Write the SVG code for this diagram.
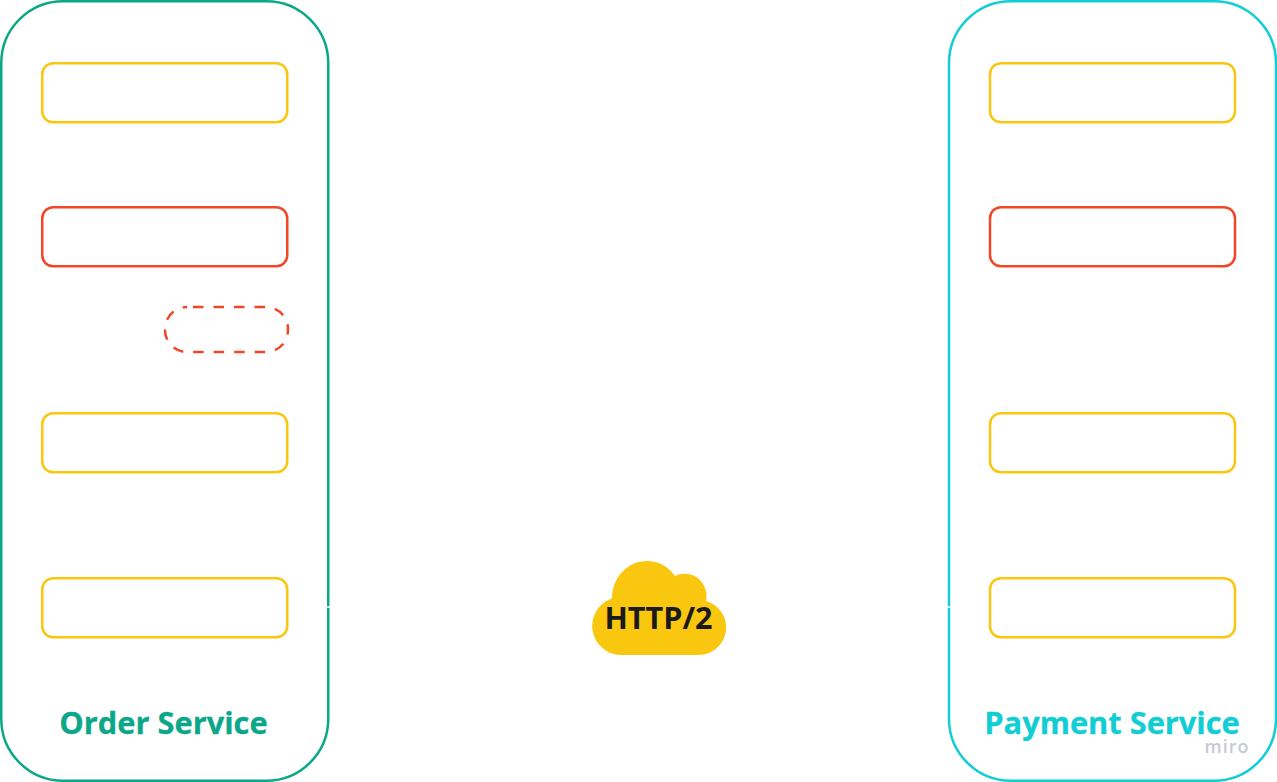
<svg xmlns="http://www.w3.org/2000/svg" width="1277" height="782" viewBox="0 0 1277 782">
<style>
.svc{fill:none;stroke-width:2.500}
.box{fill:none;stroke-width:2.500}
.y{stroke:#fac710}
.r{stroke:#f24726}
text{font-family:"Open Sans","Noto Sans",sans-serif;font-weight:700}
.lbl{font-size:30.800px;text-anchor:middle;stroke-width:0.300}
</style>
<rect width="1277" height="782" fill="#ffffff"/>
<g id="order-service">
<rect class="svc" x="1.250" y="1.250" width="327" height="779.500" rx="62" ry="62" stroke="#0ca789"/>
<text class="lbl" x="163.500" y="733.600" fill="#0ca789" stroke="#0ca789">Order Service</text>
</g>
<g id="payment-service">
<rect class="svc" x="949" y="1.250" width="327" height="779.500" rx="62" ry="62" stroke="#12cdd4"/>
<text class="lbl" x="1112" y="733.600" fill="#12cdd4" stroke="#12cdd4">Payment Service</text>
</g>
<g id="order-box-1"><rect class="box y" x="42.250" y="63.250" width="245" height="59" rx="11"/></g>
<g id="order-box-2"><rect class="box r" x="42.250" y="207.250" width="245" height="59" rx="11"/></g>
<g id="order-box-dashed"><rect class="box r" x="165" y="307" width="123" height="45" rx="22" stroke-dasharray="10.500 10" stroke-dashoffset="-6"/></g>
<g id="order-box-3"><rect class="box y" x="42.250" y="413.250" width="245" height="59" rx="11"/></g>
<g id="order-box-4"><rect class="box y" x="42.250" y="578.250" width="245" height="59" rx="11"/></g>
<g id="payment-box-1"><rect class="box y" x="990" y="63.250" width="245" height="59" rx="11"/></g>
<g id="payment-box-2"><rect class="box r" x="990" y="207.250" width="245" height="59" rx="11"/></g>
<g id="payment-box-3"><rect class="box y" x="990" y="413.250" width="245" height="59" rx="11"/></g>
<g id="payment-box-4"><rect class="box y" x="990" y="578.250" width="245" height="59" rx="11"/></g>
<g id="connectors" stroke="#ffffff" stroke-width="1.500" fill="none">
<path d="M327 607H331"/>
<path d="M946 607H950.500"/>
</g>
<g id="http2-cloud">
<path d="M621 655A29 29 0 0 1 612 598.500C612 577 628 561 647 561C658 561 668 566 675 576C686 571 699 575 704 586C707 591 707 596 706 601A27.500 27.500 0 0 1 699 655Z" fill="#fac710"/>
<text x="658.500" y="628.500" font-size="30.600" text-anchor="middle" fill="#1a1a1a">HTTP/2</text>
</g>
<g id="miro-mark">
<text x="1227" y="752.800" font-size="18" text-anchor="middle" letter-spacing="1" fill="#c9c8d6" style="font-weight:600">miro</text>
</g>
</svg>
